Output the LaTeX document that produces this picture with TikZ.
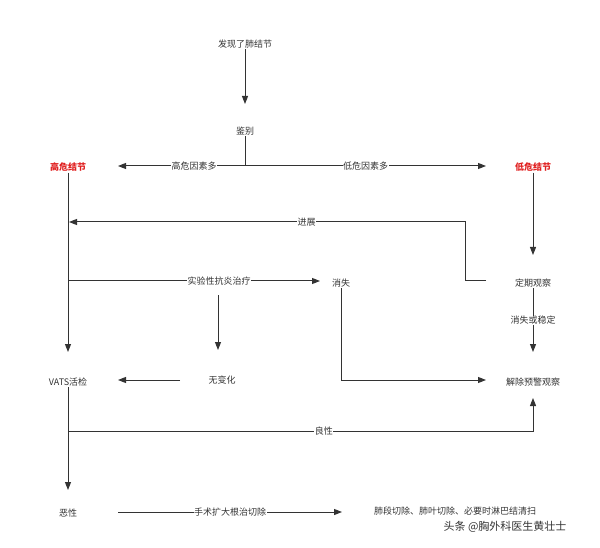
\documentclass[tikz,border=0pt]{standalone}
\usepackage{fontspec}
\setmainfont{Noto Sans CJK SC}
\usetikzlibrary{arrows.meta}
\definecolor{ink}{HTML}{333333}
\definecolor{hot}{HTML}{E02020}
\begin{document}
\begin{tikzpicture}[x=1pt,y=-1pt,
  lbl/.style={font=\fontsize{9}{11}\selectfont,text=ink,inner sep=1pt},
  red/.style={font=\fontsize{9}{11}\selectfont\bfseries,text=hot,inner sep=1pt},
  edgelbl/.style={font=\fontsize{9}{11}\selectfont,text=ink,fill=white,inner sep=0.5pt},
  con/.style={draw=ink,line width=1pt},
  arr/.style={con,-{Triangle[length=8pt,width=6pt]}}]
\useasboundingbox (0,0) rectangle (600,548);
\node[lbl] (find) at (245,44) {发现了肺结节};
\node[lbl] (jb) at (245,131) {鉴别};
\node[red] (hi) at (68,167) {高危结节};
\node[red] (lo) at (533,167) {低危结节};
\node[lbl] (ob) at (533,283) {定期观察};
\node[lbl] (xs) at (341,283) {消失};
\node[lbl] (wb) at (222,380) {无变化};
\node[lbl] (vats) at (68,382) {VATS活检};
\node[lbl] (jc) at (533,382) {解除预警观察};
\node[lbl] (ex) at (68,513) {恶性};
\node[lbl] (res) at (455,511) {肺段切除、肺叶切除、必要时淋巴结清扫};
\node[font=\fontsize{11}{13}\selectfont,text=ink] (wm) at (505,527) {头条 @胸外科医生黄壮士};
\coordinate (j) at (245,166);
\coordinate (t) at (218,281);
\coordinate (obw) at (486,281);
\draw[arr] (find) -- (245,104);
\draw[con] (jb) -- (j);
\draw[arr] (j) -- node[edgelbl,pos=0.4]{高危因素多} (118,166);
\draw[arr] (j) -- node[edgelbl,pos=0.5]{低危因素多} (486,166);
\draw[arr] (hi) -- (68,352);
\draw[arr] (lo) -- (533,255);
\draw[arr] (obw) -- (465,281) -- (465,222) -- node[edgelbl,pos=0.4]{进展} (69,222);
\draw[arr] (68,281) -- node[edgelbl,pos=0.6]{实验性抗炎治疗} (320,281);
\draw[arr] (t) ++(0,14) -- (218,350);
\draw[arr] (180,380) -- (118,380);
\draw[arr] (xs) -- (341,380) -- (486,380);
\draw[arr] (ob) -- node[edgelbl]{消失或稳定} (533,352);
\draw[arr] (vats) -- (68,490);
\draw[arr] (68,431) -- node[edgelbl,pos=0.55]{良性} (533,431) -- (533,398);
\draw[arr] (118,512) -- node[edgelbl,pos=0.5]{手术扩大根治切除} (342,512);
\end{tikzpicture}
\end{document}
